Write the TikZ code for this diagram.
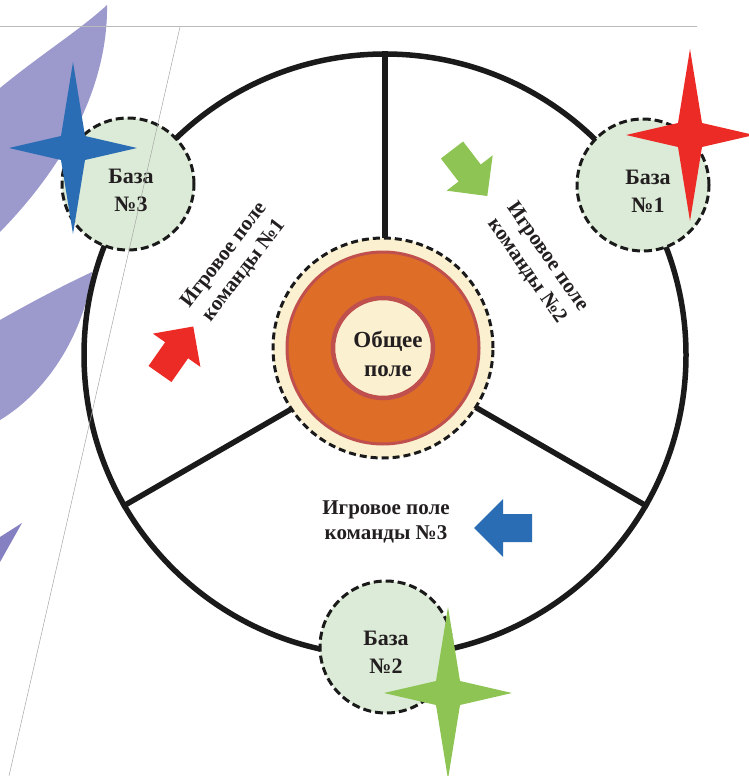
\documentclass[tikz,border=0pt]{standalone}
\usepackage{fontspec}
\setmainfont{Liberation Serif}
\definecolor{purpleA}{HTML}{9C99CC}
\definecolor{purpleB}{HTML}{8580C2}
\definecolor{basefill}{HTML}{DCEBD7}
\definecolor{starblue}{HTML}{2A6DB5}
\definecolor{starred}{HTML}{EC2A26}
\definecolor{stargreen}{HTML}{8DC453}
\definecolor{orangefill}{HTML}{DD6D27}
\definecolor{ringcol}{HTML}{C0504D}
\definecolor{creamfill}{HTML}{FBF0CF}
\definecolor{textcol}{HTML}{231F20}
\definecolor{linecol}{HTML}{1A1A1A}
\tikzset{
  star4/.pic={\fill[pic actions] (0,-86) -- (12,-12) -- (64,0) -- (12,12) -- (0,86) -- (-12,12) -- (-64,0) -- (-12,-12) -- cycle;},
  fatarrow/.pic={\fill[pic actions] (0,-14) -- (29,-14) -- (29,-29) -- (58,0) -- (29,29) -- (29,14) -- (0,14) -- cycle;},
  basecircle/.style={circle, draw=linecol, fill=basefill, line width=3pt, dash pattern=on 8pt off 4pt, minimum size=132pt, inner sep=0pt},
  basetext/.style={font=\fontsize{22}{28}\selectfont\bfseries, text=textcol, align=center, inner sep=0pt},
  fieldtext/.style={font=\fontsize{21}{25}\selectfont\bfseries, text=textcol, align=center, inner sep=0pt},
  spoke/.style={draw=linecol, line width=5.5pt},
}
\begin{document}
\begin{tikzpicture}[x=1pt, y=-1pt]
\useasboundingbox (0,0) rectangle (749,776);
\clip (0,0) rectangle (749,776);
% purple swooshes
\fill[purpleA] (0,88) .. controls (40,55) and (80,30) .. (107,5) .. controls (108,70) and (80,150) .. (0,232) -- cycle;
\fill[purpleA] (0,320) .. controls (30,303) and (60,287) .. (92,272) .. controls (85,330) and (50,390) .. (0,420) -- cycle;
\fill[purpleB] (0,537) -- (22,523) -- (0,562) -- cycle;
% main field
\node[circle, draw=linecol, line width=5.5pt, minimum size=602pt, inner sep=0pt] (field) at (385,355) {};
\draw[spoke] (field.center) -- (field.90);
\draw[spoke] (field.center) -- (field.210);
\draw[spoke] (field.center) -- (field.330);
% central field
\node[circle, draw=linecol, fill=creamfill, line width=3pt, dash pattern=on 7pt off 4pt, minimum size=220pt, inner sep=0pt] (outer) at (383,348) {};
\node[circle, draw=ringcol, fill=orangefill, line width=3pt, minimum size=192pt, inner sep=0pt] (ring) at (383,348) {};
\node[circle, draw=ringcol, fill=creamfill, line width=4.5pt, minimum size=100pt, inner sep=0pt] (core) at (383,348) {};
\node[basetext, font=\fontsize{23}{29}\selectfont\bfseries] (coretext) at (388,354) {Общее\\поле};
% bases
\node[basecircle] (b1) at (643,185) {};
\node[basecircle] (b3) at (128,184) {};
\node[basecircle] (b2) at (386,647) {};
\node[basetext] (b1t) at (648,191) {База\\№1};
\node[basetext] (b3t) at (131,190) {База\\№3};
\node[basetext] (b2t) at (386,652) {База\\№2};
% stars
\pic[fill=starblue] at (73,148) {star4};
\pic[fill=starred] at (690,135) {star4};
\pic[fill=stargreen] at (448,693) {star4};
% field labels
\node[fieldtext, rotate=52.5] (t1) at (234,263) {Игровое поле\\команды №1};
\node[fieldtext, rotate=-55] (t2) at (537,264) {Игровое поле\\команды №2};
\node[fieldtext] (t3) at (386,522) {Игровое поле\\команды №3};
% arrows
\pic[fill=starred, rotate=55] at (160,374) {fatarrow};
\pic[fill=stargreen, rotate=-52.5] at (452,150) {fatarrow};
\pic[fill=starblue, rotate=180] at (532,528) {fatarrow};
% thin guide lines
\draw[gray!55, line width=1pt] (0,27) -- (697,27);
\draw[gray!70, line width=0.5pt] (180,27) -- (9,776);
\end{tikzpicture}
\end{document}
